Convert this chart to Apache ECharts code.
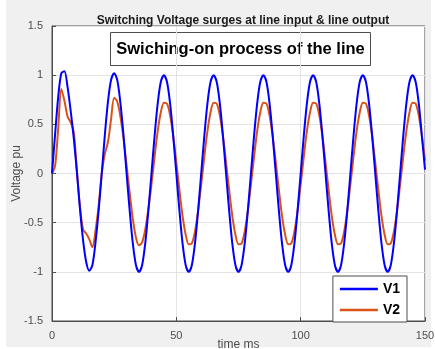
<!DOCTYPE html>
<html>
<head>
<meta charset="utf-8">
<script src="https://cdn.jsdelivr.net/npm/echarts@6/dist/echarts.min.js"></script>
<style>
  html, body { margin: 0; padding: 0; background: #fff; }
  #bg { position: absolute; left: 6px; top: 0; width: 425px; height: 347px; background: #f0f0f0; }
  #chart { position: absolute; left: 0; top: 0; width: 435px; height: 349px; }
</style>
</head>
<body>
<div id="bg"></div>
<div id="chart"></div>
<script>
// time in ms, sampled every 1.25 ms (0 .. 150)
const v1 = [
  0, 0.40, 0.78, 1.02, 1.04, 0.88, 0.64, 0.36, 0.02, -0.36, -0.68, -0.90, -0.99, -0.93, -0.70, -0.38,
  0, 0.39, 0.73, 0.95, 1.02, 0.95, 0.72, 0.39, 0, -0.38, -0.71, -0.93, -1.00, -0.93, -0.71, -0.38,
  0, 0.38, 0.71, 0.93, 1.00, 0.93, 0.71, 0.38, 0, -0.38, -0.71, -0.93, -1.00, -0.93, -0.71, -0.38,
  0, 0.38, 0.71, 0.93, 1.00, 0.93, 0.71, 0.38, 0, -0.38, -0.71, -0.93, -1.00, -0.93, -0.71, -0.38,
  0, 0.38, 0.71, 0.93, 1.00, 0.93, 0.71, 0.38, 0, -0.38, -0.71, -0.93, -1.00, -0.93, -0.71, -0.38,
  0, 0.38, 0.71, 0.93, 1.00, 0.93, 0.71, 0.38, 0, -0.38, -0.71, -0.93, -1.00, -0.93, -0.71, -0.38,
  0, 0.38, 0.71, 0.93, 1.00, 0.93, 0.71, 0.38, 0, -0.38, -0.71, -0.93, -1.00, -0.93, -0.71, -0.38,
  0, 0.38, 0.71, 0.93, 1.00, 0.93, 0.71, 0.38, 0.04
];
const v2 = [
  0, 0.08, 0.46, 0.86, 0.74, 0.58, 0.52, 0.42, 0.03, -0.34, -0.57, -0.61, -0.67, -0.75, -0.58, -0.33,
  0, 0.20, 0.32, 0.55, 0.77, 0.73, 0.58, 0.36, 0.08, -0.20, -0.46, -0.65, -0.73, -0.70, -0.57, -0.36,
  -0.11, 0.17, 0.43, 0.62, 0.72, 0.71, 0.59, 0.38, 0.11, -0.17, -0.43, -0.62, -0.72, -0.71, -0.59, -0.38,
  -0.11, 0.17, 0.43, 0.62, 0.72, 0.71, 0.59, 0.38, 0.11, -0.17, -0.43, -0.62, -0.72, -0.71, -0.59, -0.38,
  -0.11, 0.17, 0.43, 0.62, 0.72, 0.71, 0.59, 0.38, 0.11, -0.17, -0.43, -0.62, -0.72, -0.71, -0.59, -0.38,
  -0.11, 0.17, 0.43, 0.62, 0.72, 0.71, 0.59, 0.38, 0.11, -0.17, -0.43, -0.62, -0.72, -0.71, -0.59, -0.38,
  -0.11, 0.17, 0.43, 0.62, 0.72, 0.71, 0.59, 0.38, 0.11, -0.17, -0.43, -0.62, -0.72, -0.71, -0.59, -0.38,
  -0.11, 0.17, 0.43, 0.62, 0.72, 0.71, 0.59, 0.38, 0.13
];
const timeMs = v1.map((_, i) => i * 1.25);
const seriesNames = ["V1", "V2"];
const colors = ["#0000ff", "#d95319"];

const chart = echarts.init(document.getElementById("chart"));
const font = "Liberation Sans, Arial, sans-serif";
chart.setOption({
  animation: false,
  backgroundColor: "transparent",
  color: colors,
  title: {
    text: "Switching Voltage surges at line input & line output",
    left: 238,
    textAlign: "center",
    top: 10,
    textStyle: { fontFamily: font, fontSize: 12, fontWeight: "bold", color: "#1a1a1a" },
  },
  grid: {
    left: 52, right: 10, top: 26, bottom: 28,
    outerBoundsMode: "none",
    show: true, backgroundColor: "#fff", borderColor: "#4d4d4d", borderWidth: 1,
  },
  legend: {
    data: seriesNames,
    orient: "vertical",
    right: 28,
    bottom: 27,
    icon: "rect",
    itemWidth: 38,
    itemHeight: 2.5,
    itemGap: 7,
    padding: [6, 7, 5, 7],
    backgroundColor: "#fff",
    borderColor: "#4d4d4d",
    borderWidth: 1,
    borderRadius: 0,
    textStyle: { fontFamily: font, fontSize: 14, fontWeight: "bold", color: "#000", lineHeight: 14 },
  },
  xAxis: {
    type: "value",
    min: 0,
    max: 150,
    interval: 50,
    name: "time ms",
    nameLocation: "middle",
    nameGap: 18,
    nameMoveOverlap: false,
    nameTextStyle: { fontFamily: font, fontSize: 12, color: "#4d4d4d" },
    axisLine: { onZero: false, lineStyle: { color: "#4d4d4d" } },
    axisTick: { inside: true, length: 4, lineStyle: { color: "#4d4d4d" } },
    axisLabel: { fontFamily: font, fontSize: 11, color: "#4d4d4d", margin: 9 },
    splitLine: { lineStyle: { color: "#e3e3e3" } },
  },
  yAxis: {
    type: "value",
    min: -1.5,
    max: 1.5,
    interval: 0.5,
    name: "Voltage pu",
    nameLocation: "middle",
    nameGap: 29,
    nameMoveOverlap: false,
    nameTextStyle: { fontFamily: font, fontSize: 12, color: "#4d4d4d" },
    axisLine: { show: true, onZero: false, lineStyle: { color: "#4d4d4d" } },
    axisTick: { show: true, inside: true, length: 4, lineStyle: { color: "#4d4d4d" } },
    axisLabel: { fontFamily: font, fontSize: 11, color: "#4d4d4d", margin: 9 },
    splitLine: { lineStyle: { color: "#e3e3e3" } },
  },
  graphic: [
    {
      type: "group",
      left: 110,
      top: 32,
      z: 10,
      children: [
        { type: "rect", shape: { x: 0, y: 0, width: 260, height: 33 }, style: { fill: "#fff", stroke: "#4d4d4d", lineWidth: 1 } },
        {
          type: "text",
          x: 130,
          y: 17,
          style: { text: "Swiching-on process of the line", fontFamily: font, fontSize: 16.5, fontWeight: "bold", fill: "#000", align: "center", verticalAlign: "middle" },
        },
      ],
    },
  ],
  series: [v1, v2].map((values, k) => ({
    name: seriesNames[k],
    type: "line",
    data: values.map((v, i) => [timeMs[i], v]),
    showSymbol: false,
    symbol: "none",
    smooth: 0.3,
    lineStyle: { width: 2, color: colors[k] },
    z: 3 - k,
  })),
});
</script>
</body>
</html>
